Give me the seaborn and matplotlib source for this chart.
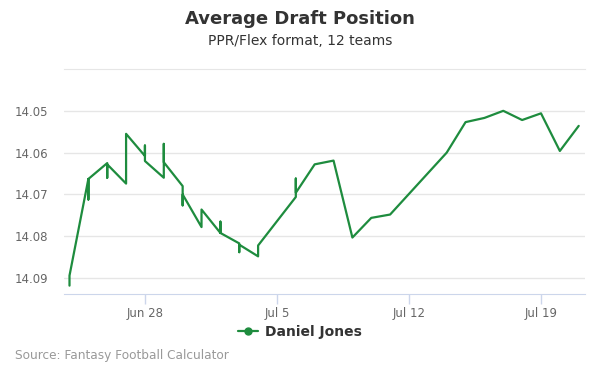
import pandas as pd
import seaborn as sns
import matplotlib.pyplot as plt
from matplotlib.lines import Line2D

# fechas (algunas repetidas: varias tomas en el mismo dia)
fechas = ["06-24", "06-24",
          "06-25", "06-25", "06-25",
          "06-26", "06-26", "06-26",
          "06-27", "06-27",
          "06-28", "06-28", "06-28",
          "06-29", "06-29", "06-29",
          "06-30", "06-30", "06-30",
          "07-01", "07-01",
          "07-02", "07-02", "07-02",
          "07-03", "07-03", "07-03",
          "07-04", "07-04",
          "07-06", "07-06", "07-06",
          "07-07", "07-08", "07-09", "07-10", "07-11",
          "07-14", "07-15", "07-16", "07-17", "07-18", "07-19", "07-20", "07-21"]
adp = [14.0918, 14.0894,
       14.0663, 14.0712, 14.0663,
       14.0625, 14.0660, 14.0628,
       14.0674, 14.0555,
       14.0608, 14.0583, 14.0620,
       14.0660, 14.0579, 14.0623,
       14.0680, 14.0726, 14.0700,
       14.0778, 14.0736,
       14.0792, 14.0765, 14.0792,
       14.0817, 14.0838, 14.0820,
       14.0848, 14.0822,
       14.0706, 14.0662, 14.0696,
       14.0628, 14.0619, 14.0803, 14.0756, 14.0748,
       14.0600, 14.0527, 14.0517, 14.0500, 14.0522, 14.0506, 14.0596, 14.0536]

yticks = [14.05, 14.06, 14.07, 14.08, 14.09]
xticks = ["06-28", "07-05", "07-12", "07-19"]
xtick_labels = ["Jun 28", "Jul 5", "Jul 12", "Jul 19"]

datos = pd.DataFrame({"fecha": pd.to_datetime(["2019-" + f for f in fechas]), "adp": adp})

sns.set_style("white")
plt.rcParams['font.family'] = ['DejaVu Sans']

verde = "#1e8c3e"
fig = plt.figure(figsize=(6, 3.75), dpi=100)
ax = fig.add_axes([64 / 600, 1 - 294 / 375, 521 / 600, 225 / 375])

sns.lineplot(data=datos, x="fecha", y="adp", estimator=None, sort=False,
             color=verde, linewidth=1.6, ax=ax)

ax.set_ylim(14.0938, 14.04)
ax.set_xlim(pd.Timestamp("2019-06-23 17:00"), pd.Timestamp("2019-07-21 08:00"))
ax.set_yticks(yticks)
ax.set_yticklabels([f"{v:.2f}" for v in yticks])
ax.set_xticks(pd.to_datetime(["2019-" + f for f in xticks]))
ax.set_xticklabels(xtick_labels)
ax.grid(axis="y", color="#e6e6e6", linewidth=1)
ax.set_axisbelow(True)
for s in ["left", "right"]:
    ax.spines[s].set_visible(False)
ax.spines["top"].set_color("#e6e6e6")
ax.spines["bottom"].set_color("#ccd6eb")
ax.tick_params(axis="y", left=False, length=0, labelsize=8.5, labelcolor="#666666", pad=11.5)
ax.tick_params(axis="x", bottom=True, direction="out", length=7.5, width=1, color="#ccd6eb",
               labelsize=8.5, labelcolor="#666666", pad=2)
ax.set_xlabel("")
ax.set_ylabel("")

fig.text(0.5, 1 - 19 / 375, "Average Draft Position", ha="center", va="center",
         fontsize=13, fontweight="bold", color="#333333")
fig.text(0.5, 1 - 41 / 375, "PPR/Flex format, 12 teams", ha="center", va="center",
         fontsize=10, color="#333333")
fig.text(15 / 600, 1 - 356 / 375, "Source: Fantasy Football Calculator", ha="left", va="center",
         fontsize=8.75, color="#999999")

mano = Line2D([], [], color=verde, marker="o", markersize=5, linewidth=1.6)
leg = fig.legend([mano], ["Daniel Jones"], loc="center", bbox_to_anchor=(0.5, 1 - 332 / 375),
                 frameon=False, handlelength=1.4, handletextpad=0.5,
                 prop={"weight": "bold", "size": 10})
for t in leg.get_texts():
    t.set_color("#333333")

plt.savefig("out.png", dpi=100)
plt.close()
